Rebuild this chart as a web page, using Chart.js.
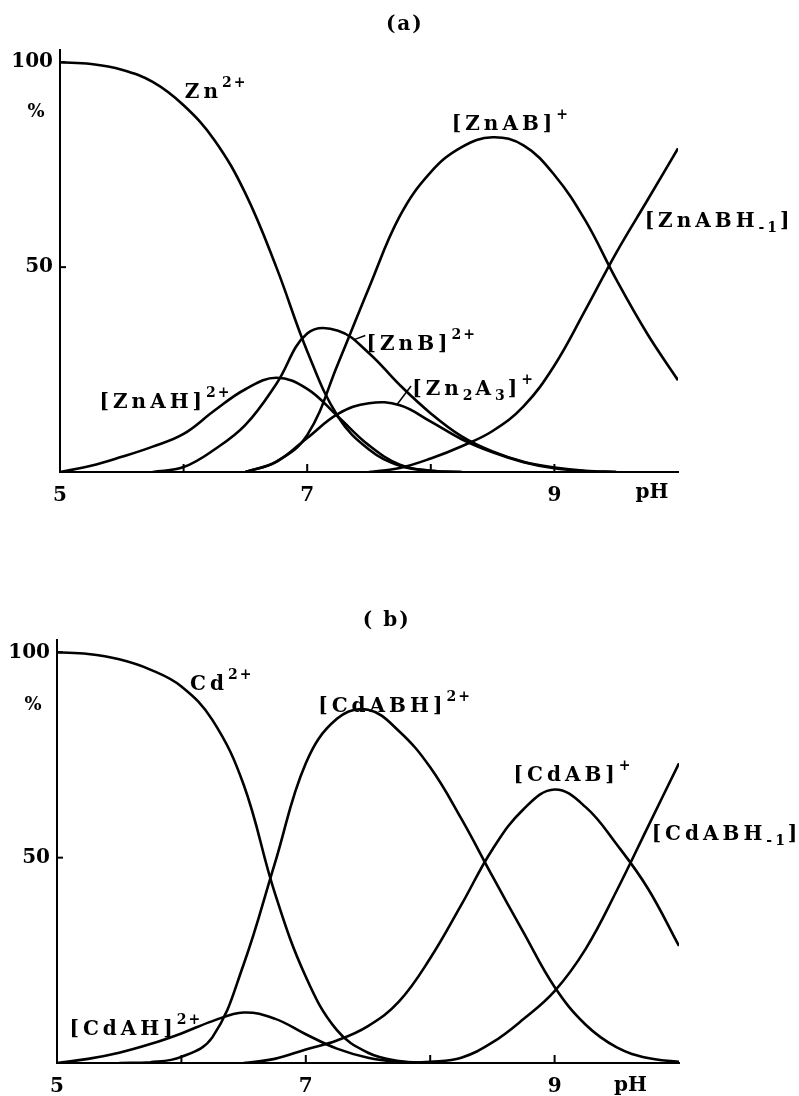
<!DOCTYPE html>
<html><head><meta charset="utf-8">
<script src="https://cdn.jsdelivr.net/npm/chart.js@4/dist/chart.umd.min.js"></script>
<style>
html,body{margin:0;padding:0;background:#fff;}
#wrap{position:relative;width:799px;height:1096px;overflow:hidden;}
canvas{position:absolute;left:0;}
</style></head>
<body><div id="wrap">
<canvas id="ca" width="799" height="540" style="top:0"></canvas>
<canvas id="cb" width="799" height="556" style="top:540px"></canvas>
</div>
<script>
// ---------- data (pH grid shared by all species) ----------
const PH = [5,5.25,5.5,5.75,6,6.25,6.5,6.75,7,7.25,7.5,7.75,8,8.25,8.5,8.75,9,9.25,9.5,9.75,10];

// (a) Zn system, % of total Zn
const ZN_FREE  = [100,99.6,98.2,95.2,89.5,81,68,50,29.5,13.5,5.5,1.5,0.3,0,null,null,null,null,null,null,null];
const ZN_AH    = [0,1.5,3.7,6.2,9.3,15,20.2,23,20.3,13.5,6.5,1.8,0.3,0,null,null,null,null,null,null,null];
const ZN_B     = [null,null,null,0,1.2,5.5,11.5,21.5,33.8,34.5,29,21.2,14.3,8.7,5,2.5,1.1,0.3,0,null,null];
const ZN2_A3   = [null,null,null,null,null,null,0,2.5,8.3,14.2,16.8,16.3,12.3,8,4.8,2.4,0.9,0.2,0,null,null];
const ZN_AB    = [null,null,null,null,null,null,0,2.5,9,26.5,45,62.5,73.2,79.3,81.7,79.7,72.5,61.4,47,33.8,22.4];
const ZN_ABH_1 = [null,null,null,null,null,null,null,null,null,null,0,1,3.3,6.3,10,16,26,39.5,53.5,66.2,79];

// (b) Cd system, % of total Cd
const CD_FREE  = [100,99.6,98.3,95.8,91.7,83.5,67.8,41.5,21,8,2.5,0.5,0,null,null,null,null,null,null,null,null];
const CD_AH    = [0,1,2.5,4.6,7.2,10.2,12.3,10.8,7,3.5,1.3,0.3,0,null,null,null,null,null,null,null,null];
const CD_ABH   = [null,null,0,0.2,1.5,6.3,24,48.5,73,83.8,86,80.8,72,59.5,45.5,31.8,18.5,9.3,3.8,1.2,0.3];
const CD_AB    = [null,null,null,null,null,null,0,1,3.3,5.5,9,15,25.5,38.5,52,61.8,66.6,62.3,53.2,42.5,28.5];
const CD_ABH_1 = [null,null,null,null,null,null,null,null,null,null,null,0,0.3,1.3,5,10.7,17.5,27.8,42,57.5,73];

// axis ticks
const X_TICKS = [5,6,7,8,9];
const X_TICK_LABELS = [5,7,9];
const Y_TICKS = [50,100];

// ---------- annotation text ----------
const LABELS_A = [
  {x:6.01, y:91.3, parts:[['Zn',''],['2+','sup']]},
  {x:8.17, y:83.4, parts:[['[ZnAB]',''],['+','sup']]},
  {x:9.73, y:59.8, parts:[['[ZnABH',''],['-1','sub'],[']','']]},
  {x:7.48, y:29.8, parts:[['[ZnB]',''],['2+','sup']]},
  {x:7.85, y:18.8, parts:[['[Zn',''],['2','sub'],['A',''],['3','sub'],[']',''],['+','sup']]},
  {x:5.32, y:15.6, parts:[['[ZnAH]',''],['2+','sup']]}
];
const LEADERS_A = [[7.38,32.3,7.47,33.3],[7.73,16.6,7.84,21.0]];
const LABELS_B = [
  {x:6.07, y:90.8, parts:[['Cd',''],['2+','sup']]},
  {x:7.10, y:85.5, parts:[['[CdABH]',''],['2+','sup']]},
  {x:8.67, y:68.7, parts:[['[CdAB]',''],['+','sup']]},
  {x:9.78, y:54.3, parts:[['[CdABH',''],['-1','sub'],[']','']]},
  {x:5.10, y:6.8,  parts:[['[CdAH]',''],['2+','sup']]}
];

const FONT = '"DejaVu Serif", "Liberation Serif", serif';

function pts(vals){ return PH.map((x,i)=>({x:x, y:vals[i]})); }
function ds(vals){
  return {data:pts(vals), borderColor:'#000', borderWidth:2.6, pointRadius:0,
          tension:0.4, fill:false, spanGaps:false};
}

function drawLabel(ctx, chart, L){
  const xs = chart.scales.x, ys = chart.scales.y;
  let x = xs.getPixelForValue(L.x), y = ys.getPixelForValue(L.y);
  ctx.save();
  ctx.fillStyle = '#000'; ctx.textAlign = 'left'; ctx.textBaseline = 'alphabetic';
  for (const [t,k] of L.parts){
    let dy = 0;
    if (k === 'sup'){ ctx.font = 'bold 14px ' + FONT; ctx.letterSpacing = '2px'; dy = -11; }
    else if (k === 'sub'){ ctx.font = 'bold 14px ' + FONT; ctx.letterSpacing = '3px'; dy = 5; }
    else { ctx.font = 'bold 20px ' + FONT; ctx.letterSpacing = '4px'; }
    ctx.fillText(t, x, y + dy);
    x += ctx.measureText(t).width;
  }
  ctx.restore();
}

function makePlugin(cfg){
  return {
    id:'deco',
    afterDraw(chart){
      const ctx = chart.ctx, a = chart.chartArea, xs = chart.scales.x, ys = chart.scales.y;
      ctx.save();
      ctx.strokeStyle = '#000'; ctx.lineWidth = 2;
      // inward tick marks
      X_TICKS.forEach(v=>{ if(v===5) return; const px = xs.getPixelForValue(v);
        ctx.beginPath(); ctx.moveTo(px, a.bottom); ctx.lineTo(px, a.bottom-8); ctx.stroke(); });
      Y_TICKS.forEach(v=>{ const py = ys.getPixelForValue(v);
        ctx.beginPath(); ctx.moveTo(a.left, py); ctx.lineTo(a.left+6, py); ctx.stroke(); });
      // leaders
      ctx.lineWidth = 1.5;
      (cfg.leaders||[]).forEach(l=>{
        ctx.beginPath(); ctx.moveTo(xs.getPixelForValue(l[0]), ys.getPixelForValue(l[1]));
        ctx.lineTo(xs.getPixelForValue(l[2]), ys.getPixelForValue(l[3])); ctx.stroke(); });
      ctx.restore();
      cfg.labels.forEach(L=>drawLabel(ctx, chart, L));
      // axis words and panel title
      ctx.save();
      ctx.fillStyle = '#000'; ctx.textAlign = 'center'; ctx.textBaseline = 'middle';
      ctx.font = 'bold 20px ' + FONT;
      ctx.fillText('pH', xs.getPixelForValue(cfg.phX), a.bottom + cfg.phDy);
      ctx.font = 'bold 18px ' + FONT;
      ctx.fillText('%', a.left - 24, ys.getPixelForValue(cfg.pctY));
      ctx.font = 'bold 20px ' + FONT; ctx.letterSpacing = '2px';
      ctx.fillText(cfg.title, xs.getPixelForValue(cfg.titleX), cfg.titleY);
      ctx.restore();
    }
  };
}

function makeChart(id, datasets, cfg){
  return new Chart(document.getElementById(id), {
    type:'line',
    data:{datasets:datasets},
    options:{
      responsive:false, animation:false, events:[],
      layout:{padding:cfg.pad},
      plugins:{legend:{display:false}, tooltip:{enabled:false}, title:{display:false}},
      scales:{
        x:{type:'linear', min:5, max:10,
           afterBuildTicks:s=>{ s.ticks = X_TICKS.map(v=>({value:v})); },
           afterFit:s=>{ s.height = cfg.xh; },
           grid:{display:false, drawTicks:false},
           border:{display:true, color:'#000', width:2},
           ticks:{autoSkip:false, maxRotation:0, padding:cfg.xpad, color:'#000',
                  font:{family:FONT, size:20, weight:'bold'},
                  callback:v=> X_TICK_LABELS.includes(v) ? String(v) : ''}},
        y:{type:'linear', min:0, max:103,
           afterBuildTicks:s=>{ s.ticks = Y_TICKS.map(v=>({value:v})); },
           afterFit:s=>{ s.width = cfg.yw; },
           grid:{display:false, drawTicks:false},
           border:{display:true, color:'#000', width:2},
           ticks:{padding:7, color:'#000', font:{family:FONT, size:20, weight:'bold'},
                  callback:v=>String(v)}}
      }
    },
    plugins:[makePlugin(cfg)]
  });
}

makeChart('ca', [ZN_FREE,ZN_AH,ZN_B,ZN2_A3,ZN_AB,ZN_ABH_1].map(ds), {
  pad:{left:0, right:121, top:50, bottom:0}, xh:68, yw:60, xpad:12,
  labels:LABELS_A, leaders:LEADERS_A, phX:9.79, phDy:21, pctY:87.8,
  title:'(a)', titleX:7.79, titleY:25
});
makeChart('cb', [CD_FREE,CD_AH,CD_ABH,CD_AB,CD_ABH_1].map(ds), {
  pad:{left:0, right:120, top:100, bottom:0}, xh:33, yw:57, xpad:12,
  labels:LABELS_B, leaders:[], phX:9.61, phDy:23, pctY:87.1,
  title:'( b)', titleX:7.65, titleY:81
});
</script>
</body></html>
